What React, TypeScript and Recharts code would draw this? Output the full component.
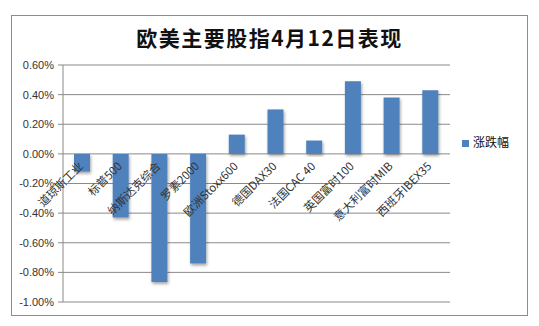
import { BarChart, Bar, XAxis, YAxis, CartesianGrid, Legend, LabelList } from 'recharts';

const categories = ['道琼斯工业', '标普500', '纳斯达克综合', '罗素2000', '欧洲Stoxx600', '德国DAX30', '法国CAC 40', '英国富时100', '意大利富时MIB', '西班牙IBEX35'];
const changes = [-0.12, -0.43, -0.865, -0.74, 0.13, 0.30, 0.09, 0.49, 0.38, 0.43];
const yTicks = [-1, -0.8, -0.6, -0.4, -0.2, 0, 0.2, 0.4, 0.6];

const data = categories.map((name, i) => ({ name, value: changes[i] }));

const CategoryLabel = (props: any) => {
  const { x, y, width, height, index } = props;
  // zero line sits at y + height for both positive and negative bars
  const cx = x + width / 2 + 2;
  const zy = y + height + 13;
  return (
    <text
      x={cx}
      y={zy}
      transform={`rotate(-45 ${cx} ${zy})`}
      textAnchor="end"
      fontSize={11.5}
      fill="#333"
      fontFamily="'Noto Sans CJK SC', sans-serif"
    >
      {categories[index]}
    </text>
  );
};

export default function App() {
  return (
    <div style={{ position: 'absolute', left: 0, top: 0, width: 539, height: 326, background: '#fff' }}>
      <div style={{ position: 'absolute', left: 11, top: 15, width: 515, height: 299, border: '1px solid #8c8c8c' }} />
      <div style={{
        position: 'absolute', left: 0, top: 22, width: 539, textAlign: 'center',
        fontFamily: "'Noto Sans CJK SC', sans-serif", fontSize: 21, fontWeight: 600,
        letterSpacing: 1.5, color: '#111'
      }}>
        欧美主要股指4月12日表现
      </div>
      <div style={{ position: 'absolute', left: 0, top: 0 }}>
        <BarChart width={539} height={326} data={data} margin={{ top: 65, right: 89, bottom: 24, left: 0 }}>
          <defs>
            <filter id="barShadow" x="-30%" y="-10%" width="160%" height="130%">
              <feDropShadow dx="1" dy="2" stdDeviation="1.5" floodColor="#000" floodOpacity="0.35" />
            </filter>
          </defs>
          <CartesianGrid vertical={false} stroke="#8a8a8a" />
          <XAxis dataKey="name" hide />
          <YAxis
            width={63}
            domain={[-1, 0.6]}
            ticks={yTicks}
            interval={0}
            tickFormatter={(v: number) => `${v.toFixed(2)}%`}
            tick={{ fontSize: 11, fill: '#333', fontFamily: "'Liberation Sans', Arial, sans-serif" }}
            stroke="#8a8a8a"
            tickSize={5}
            tickMargin={4}
          />
          <Legend
            layout="vertical"
            align="center"
            verticalAlign="middle"
            iconType="square"
            iconSize={7}
            wrapperStyle={{ position: 'absolute', left: 462, top: 133, width: 70 }}
            formatter={(value: string) => (
              <span style={{ color: '#111', fontSize: 12, fontFamily: "'Noto Sans CJK SC', sans-serif" }}>{value}</span>
            )}
          />
          <Bar dataKey="value" name="涨跌幅" fill="#4f81bd" barSize={16} isAnimationActive={false} filter="url(#barShadow)">
            <LabelList dataKey="value" content={CategoryLabel} />
          </Bar>
        </BarChart>
      </div>
    </div>
  );
}
